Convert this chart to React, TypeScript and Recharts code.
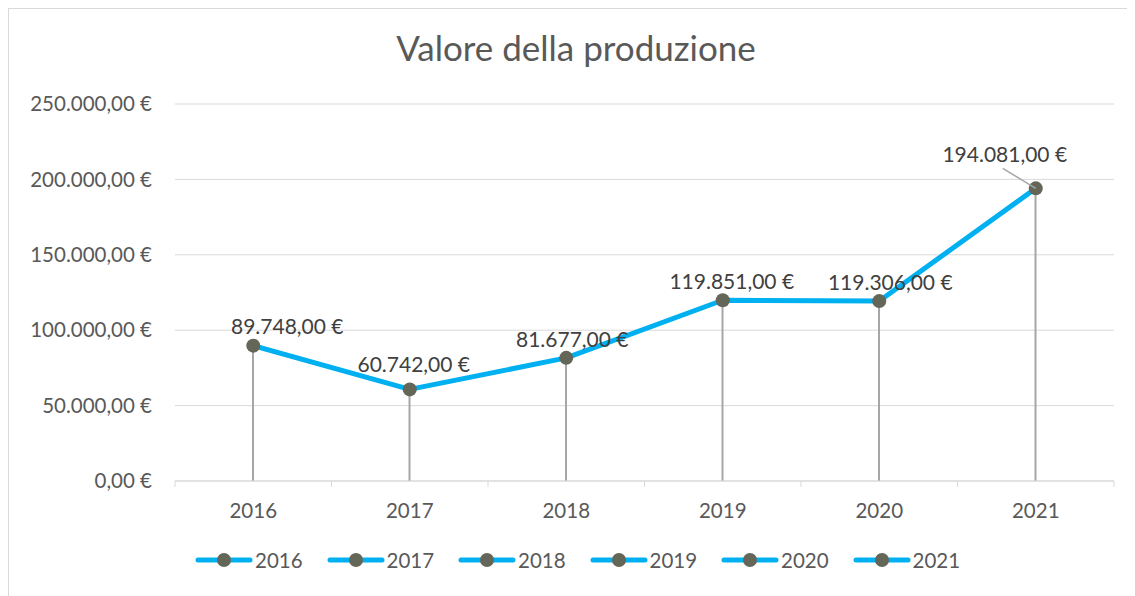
import React from "react";
import { ComposedChart, Bar, Line, XAxis, YAxis, CartesianGrid, LabelList } from "recharts";

const CATEGORIES = ["2016", "2017", "2018", "2019", "2020", "2021"];
const VALUES = [89748, 60742, 81677, 119851, 119306, 194081];
const Y_TICKS = [0, 50000, 100000, 150000, 200000, 250000];
const LEGEND_LABELS = ["2016", "2017", "2018", "2019", "2020", "2021"];

// manual nudges for the data labels (dx, dy), Excel-style placement
const LABEL_NUDGE: [number, number][] = [
  [34, 0],
  [4, -6],
  [6, 1],
  [9, 0],
  [11, 0],
  [-31, -15],
];

const FONT = "Lato, 'Open Sans', sans-serif";
const LINE_COLOR = "#00b0f0";
const DOT_COLOR = "#646658";
const TEXT_GRAY = "#595959";

const data = CATEGORIES.map((year, i) => ({ year, value: VALUES[i] }));

function euro(v: number) {
  const [int, dec] = v.toFixed(2).split(".");
  const grouped = int.replace(/\B(?=(\d{3})+(?!\d))/g, ".");
  return `${grouped},${dec} €`;
}

function XTick(props: any) {
  const { x, y, payload, index, visibleTicksCount } = props;
  const half = payload?.offset || 78;
  const last = index === (visibleTicksCount ?? CATEGORIES.length) - 1;
  return (
    <g>
      <line x1={x - half} y1={y} x2={x - half} y2={y + 6} stroke="#d9d9d9" />
      {last && <line x1={x + half} y1={y} x2={x + half} y2={y + 6} stroke="#d9d9d9" />}
      <text x={x} y={y + 29} textAnchor="middle" dominantBaseline="central" fill={TEXT_GRAY} fontSize={20.5} fontFamily={FONT}>
        {payload.value}
      </text>
    </g>
  );
}

function PointLabel(props: any) {
  const { x, y, value, index } = props;
  const [dx, dy] = LABEL_NUDGE[index] || [0, 0];
  const lx = x + dx;
  const ly = y - 20 + dy;
  return (
    <g>
      {index === VALUES.length - 1 && (
        <line x1={lx - 2} y1={ly + 15} x2={x} y2={y} stroke="#a6a6a6" strokeWidth={1.5} />
      )}
      <text x={lx} y={ly} textAnchor="middle" dominantBaseline="central" fill="#404040" fontSize={21} fontFamily={FONT}>
        {euro(value)}
      </text>
    </g>
  );
}

function LegendIcon() {
  return (
    <svg width={58} height={16} style={{ display: "block" }}>
      <line x1={3} y1={8} x2={55} y2={8} stroke={LINE_COLOR} strokeWidth={5} strokeLinecap="round" />
      <circle cx={29} cy={8} r={7} fill={DOT_COLOR} />
    </svg>
  );
}

export default function App() {
  return (
    <div
      style={{
        position: "relative",
        width: 1127,
        height: 588,
        borderTop: "1px solid #d9d9d9",
        borderLeft: "1px solid #d9d9d9",
        boxSizing: "border-box",
        fontFamily: FONT,
        background: "#fff",
      }}
    >
      <div
        style={{
          position: "absolute",
          top: 17,
          left: 0,
          width: 1134,
          textAlign: "center",
          fontSize: 35,
          color: TEXT_GRAY,
        }}
      >
        Valore della produzione
      </div>
      <ComposedChart
        width={1127}
        height={588}
        data={data}
        margin={{ top: 96, right: 21, bottom: 75, left: 0 }}
        style={{ position: "absolute", top: -1, left: -1 }}
      >
        <CartesianGrid vertical={false} stroke="#d9d9d9" />
        <XAxis
          dataKey="year"
          height={40}
          interval={0}
          axisLine={{ stroke: "#d9d9d9" }}
          tickLine={false}
          tickSize={0}
          tickMargin={0}
          tick={<XTick />}
        />
        <YAxis
          domain={[0, 250000]}
          ticks={Y_TICKS}
          width={167}
          axisLine={false}
          tickLine={false}
          tickSize={0}
          tickMargin={23}
          tickFormatter={euro}
          tick={{ fill: TEXT_GRAY, fontSize: 20.5, fontFamily: FONT }}
        />
        <Bar dataKey="value" barSize={2} fill="#a6a6a6" isAnimationActive={false} />
        <Line
          type="linear"
          dataKey="value"
          stroke={LINE_COLOR}
          strokeWidth={5}
          strokeLinejoin="round"
          dot={{ r: 7, fill: DOT_COLOR, stroke: "none" }}
          activeDot={false}
          isAnimationActive={false}
        >
          <LabelList dataKey="value" content={<PointLabel />} />
        </Line>
      </ComposedChart>
      <div style={{ position: "absolute", top: 539, left: 186, display: "flex" }}>
        {LEGEND_LABELS.map((l) => (
          <div key={l} style={{ width: 131.5, display: "flex", alignItems: "center" }}>
            <LegendIcon />
            <span style={{ marginLeft: 2, fontSize: 20.5, color: TEXT_GRAY }}>{l}</span>
          </div>
        ))}
      </div>
    </div>
  );
}
